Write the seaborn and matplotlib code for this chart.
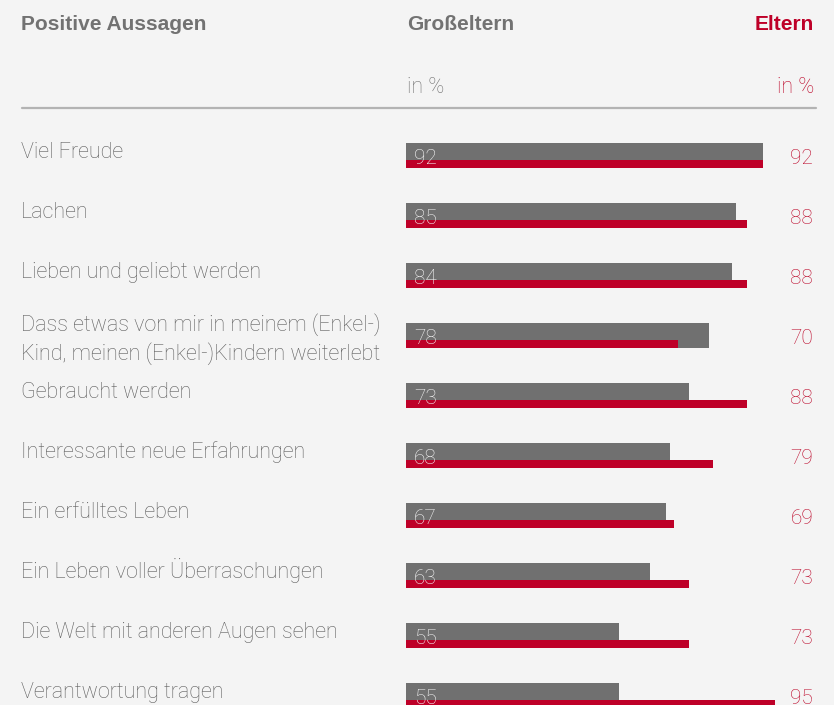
import numpy as np
import pandas as pd
import matplotlib
matplotlib.use("Agg")
import matplotlib.pyplot as plt
import matplotlib.transforms as mtransforms
import seaborn as sns

# values
statements = [
    "Viel Freude",
    "Lachen",
    "Lieben und geliebt werden",
    "Dass etwas von mir in meinem (Enkel-)\nKind, meinen (Enkel-)Kindern weiterlebt",
    "Gebraucht werden",
    "Interessante neue Erfahrungen",
    "Ein erfülltes Leben",
    "Ein Leben voller Überraschungen",
    "Die Welt mit anderen Augen sehen",
    "Verantwortung tragen",
]
grandparents = [92, 85, 84, 78, 73, 68, 67, 63, 55, 55]
parents = [92, 88, 88, 70, 88, 79, 69, 73, 73, 95]

BG = "#f4f4f4"
GREY_BAR = "#707070"
RED = "#be0028"
RED_TEXT = "#bd0a2c"
TEXT_GREY = "#5e5e5e"
HEAD_GREY = "#727272"

sns.set_theme(style="white")
plt.rcParams["font.family"] = ["Roboto", "DejaVu Sans"]

W, H = 834, 705
fig = plt.figure(figsize=(W / 100, H / 100), dpi=100, facecolor=BG)
ax = fig.add_axes([0, 0, 1, 1])
ax.set_facecolor(BG)

df = pd.DataFrame({"Aussage": statements, "Grosseltern": grandparents, "Eltern": parents})
df["pos"] = np.arange(len(df), dtype=float)
df["pos_red"] = df["pos"] + 8.5 / 60

sns.barplot(data=df, x="Grosseltern", y="pos", orient="h", native_scale=True,
            width=25 / 60, color=GREY_BAR, saturation=1, linewidth=0, ax=ax)
sns.barplot(data=df, x="Eltern", y="pos_red", orient="h", native_scale=True,
            width=8 / 60, color=RED, saturation=1, linewidth=0, ax=ax)

# 3.88 px per percent, bars start at x=406px, rows 60px apart
scale = 3.88
ax.set_xlim(-406 / scale, (W - 406) / scale)
ax.set_ylim((H - 155.5) / 60, -155.5 / 60)
ax.set_axis_off()

trans = mtransforms.blended_transform_factory(fig.transFigure, ax.transData)
px = 1 / 60

for i, row in df.iterrows():
    lab = row["Aussage"]
    dy = 24.5 * px if "\n" in lab else 2.5 * px
    ax.text(21 / W, i + dy, lab, transform=trans, ha="left", va="baseline",
            fontsize=15.5, fontweight="light", color=TEXT_GREY, linespacing=1.36)
    ax.text(414 / W, i + 9 * px, str(row["Grosseltern"]), transform=trans,
            ha="left", va="baseline", fontsize=15, fontweight="light", color="#f6f6f6")
    ax.text(813 / W, i + 9 * px, str(row["Eltern"]), transform=trans,
            ha="right", va="baseline", fontsize=15, fontweight="light", color=RED_TEXT)

# header
bold = ["Liberation Sans", "DejaVu Sans"]
fig.text(21 / W, 1 - 30 / H, "Positive Aussagen", ha="left", va="baseline",
         fontsize=15, fontweight="bold", family=bold, color=HEAD_GREY)
fig.text(407 / W, 1 - 30 / H, "Großeltern", ha="left", va="baseline",
         fontsize=15, fontweight="bold", family=bold, color=HEAD_GREY)
fig.text(814 / W, 1 - 30 / H, "Eltern", ha="right", va="baseline",
         fontsize=15, fontweight="bold", family=bold, color=RED)
fig.text(407 / W, 1 - 93 / H, "in %", ha="left", va="baseline",
         fontsize=15.5, fontweight="light", color=HEAD_GREY)
fig.text(814 / W, 1 - 93 / H, "in %", ha="right", va="baseline",
         fontsize=15.5, fontweight="light", color=RED_TEXT)
ax.plot([22 / W, 816 / W], [1 - 108 / H, 1 - 108 / H], transform=fig.transFigure,
        color="#b3b3b3", lw=1.6, clip_on=False)

fig.savefig("out.png", dpi=100, facecolor=BG)
